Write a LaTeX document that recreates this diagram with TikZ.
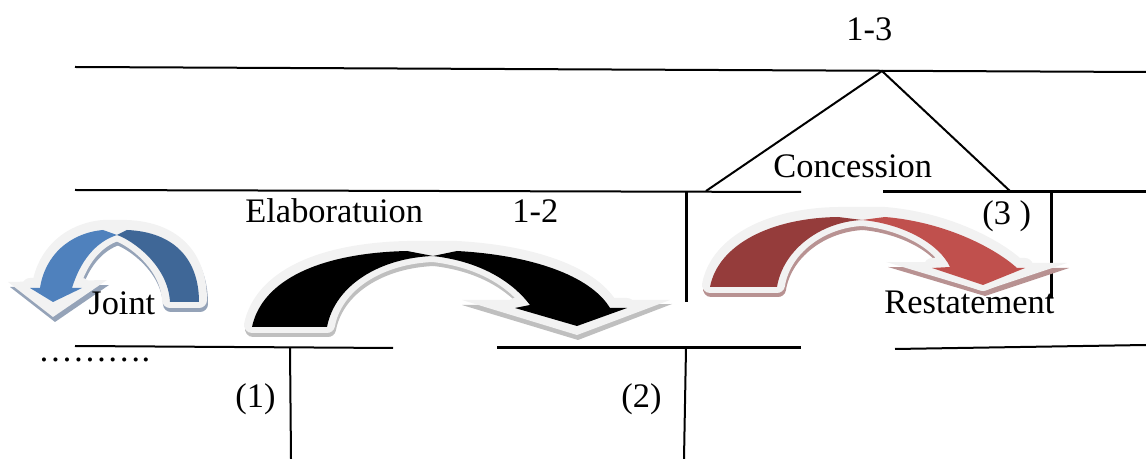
\documentclass[tikz,border=0pt]{standalone}
\usepackage{fontspec}
\setmainfont{Liberation Serif}
\definecolor{glowc}{HTML}{F2F2F2}
\definecolor{shblack}{HTML}{BFBFBF}
\definecolor{shblue}{HTML}{95A3B8}
\definecolor{shred}{HTML}{B89292}
\definecolor{bluelight}{HTML}{4F81BD}
\definecolor{bluedark}{HTML}{3F6797}
\definecolor{reddark}{HTML}{953C3B}
\definecolor{redlight}{HTML}{C0504D}
% arrow arms (pixel coordinates)
\newcommand\pBkTail{(252,327) .. controls (262,280) and (320,253) .. (407,251) -- (433,256) .. controls (380,258) and (335,285) .. (327,327) -- cycle}
\newcommand\pBkHead{(457,251) .. controls (530,255) and (590,275) .. (610,308) -- (627,308) -- (577,326) -- (515,308) -- (530,305) .. controls (515,285) and (485,262) .. (433,256) -- cycle}
\newcommand\pBkNotch{(407,251) -- (433,256) -- (457,251) -- cycle}
\newcommand\pBlTail{(199,302) .. controls (199,260) and (175,232) .. (127,230) -- (117,235) .. controls (132,240) and (168,265) .. (170,302) -- cycle}
\newcommand\pBlHead{(103,230) .. controls (70,233) and (45,255) .. (40,288) -- (30,288) -- (53,302) -- (82,288) -- (72,288) .. controls (80,262) and (95,242) .. (117,235) -- cycle}
\newcommand\pBlNotch{(103,230) -- (117,235) -- (127,230) -- cycle}
\newcommand\pRdTail{(710,287) .. controls (718,245) and (770,218) .. (838,217) -- (862,220) .. controls (820,222) and (783,250) .. (777,287) -- cycle}
\newcommand\pRdHead{(885,217) .. controls (945,222) and (995,248) .. (1017,268) -- (1025,268) -- (983,285) -- (932,268) -- (950,267) .. controls (940,245) and (905,224) .. (862,220) -- cycle}
\newcommand\pRdNotch{(838,217) -- (862,220) -- (885,217) -- cycle}
\tikzset{
  lab/.style={anchor=base west, inner sep=0pt, font=\fontsize{17.2}{20}\selectfont},
  ruleA/.style={line width=1pt},
  ruleB/.style={line width=1.5pt},
  halo/.style={fill=#1, draw=#1, line width=8pt, line join=round},
}
\begin{document}
\begin{tikzpicture}[x=0.5pt, y=-0.5pt]
\useasboundingbox (0,0) rectangle (1146,459);
% ---- coordinates of the tree lines
\coordinate (topL) at (75,67);
\coordinate (topR) at (1146,72);
\coordinate (apex) at (882,71);
\coordinate (conL) at (706,191);
\coordinate (conR) at (1011,192);
\coordinate (midLa) at (75,190);
\coordinate (midLb) at (801,192);
\coordinate (midRa) at (883,192);
\coordinate (midRb) at (1146,192);
\coordinate (v2a) at (686,192);
\coordinate (v2b) at (686,302);
\coordinate (v3a) at (1051,193);
\coordinate (v3b) at (1051,298);
\coordinate (botAa) at (75,346);
\coordinate (botAb) at (393,348);
\coordinate (botBa) at (497,348);
\coordinate (botBb) at (801,348);
\coordinate (botCa) at (895,349);
\coordinate (botCb) at (1146,345);
\coordinate (u1a) at (290,348);
\coordinate (u1b) at (291,459);
\coordinate (u2a) at (686,348);
\coordinate (u2b) at (684,459);
% ---- lines
\draw[ruleA] (topL) -- (topR);
\draw[ruleA] (conL) -- (apex) -- (conR);
\draw[ruleA] (midLa) -- (midLb);
\draw[ruleB] (midRa) -- (midRb);
\draw[ruleB] (v2a) -- (v2b);
\draw[ruleB] (v3a) -- (v3b);
\draw[ruleA] (botAa) -- (botAb);
\draw[ruleB] (botBa) -- (botBb);
\draw[ruleA] (botCa) -- (botCb);
\draw[ruleA] (u1a) -- (u1b);
\draw[ruleA] (u2a) -- (u2b);
% ---- blue arrow (Joint)
\begin{scope}[shift={(1,2)}]
  \path[halo=shblue] \pBlTail; \path[halo=shblue] \pBlHead; \path[halo=shblue] \pBlNotch;
\end{scope}
\path[fill=shblue] (10,287) -- (109,285) -- (55,322) -- cycle;
\begin{scope}[shift={(0,-2)}]
  \path[halo=glowc] \pBlTail; \path[halo=glowc] \pBlHead; \path[halo=glowc] \pBlNotch;
\end{scope}
\path[fill=glowc] (8,282) -- (107,280) -- (53,317) -- cycle;
\path[fill=bluedark] \pBlTail;
\path[fill=bluelight] \pBlHead;
% ---- black arrow (Elaboration)
\begin{scope}[shift={(1,2)}]
  \path[halo=shblack] \pBkTail; \path[halo=shblack] \pBkHead; \path[halo=shblack] \pBkNotch;
\end{scope}
\path[fill=shblack] (462,305) -- (672,304) -- (578,340) -- cycle;
\begin{scope}[shift={(0,-2)}]
  \path[halo=glowc] \pBkTail; \path[halo=glowc] \pBkHead; \path[halo=glowc] \pBkNotch;
\end{scope}
\path[fill=glowc] (462,300) -- (670,300) -- (577,335) -- cycle;
\path[fill=black] \pBkTail;
\path[fill=black] \pBkHead;
% ---- red arrow (Concession)
\begin{scope}[shift={(1,2)}]
  \path[halo=shred] \pRdTail; \path[halo=shred] \pRdHead; \path[halo=shred] \pRdNotch;
\end{scope}
\path[fill=shred] (888,267) -- (1069,268) -- (985,296) -- cycle;
\begin{scope}[shift={(0,-2)}]
  \path[halo=glowc] \pRdTail; \path[halo=glowc] \pRdHead; \path[halo=glowc] \pRdNotch;
\end{scope}
\path[fill=glowc] (886,262) -- (1067,263) -- (983,291) -- cycle;
\path[fill=reddark] \pRdTail;
\path[fill=redlight] \pRdHead;
% ---- labels
\node[lab] (t13) at (846,41) {1-3};
\node[lab] (tcon) at (773,178) {Concession};
\node[lab] (telab) at (245,223) {Elaboratuion};
\node[lab] (t12) at (512,223) {1-2};
\node[lab] (t3) at (982,225) {(3 )};
\node[lab] (tjoint) at (88,315) {Joint};
\node[lab] (trest) at (884,314) {Restatement};
\node[lab] (tdots) at (38,362) {……….};
\node[lab] (t1) at (235,408) {(1)};
\node[lab] (t2) at (621,408) {(2)};
\end{tikzpicture}
\end{document}
